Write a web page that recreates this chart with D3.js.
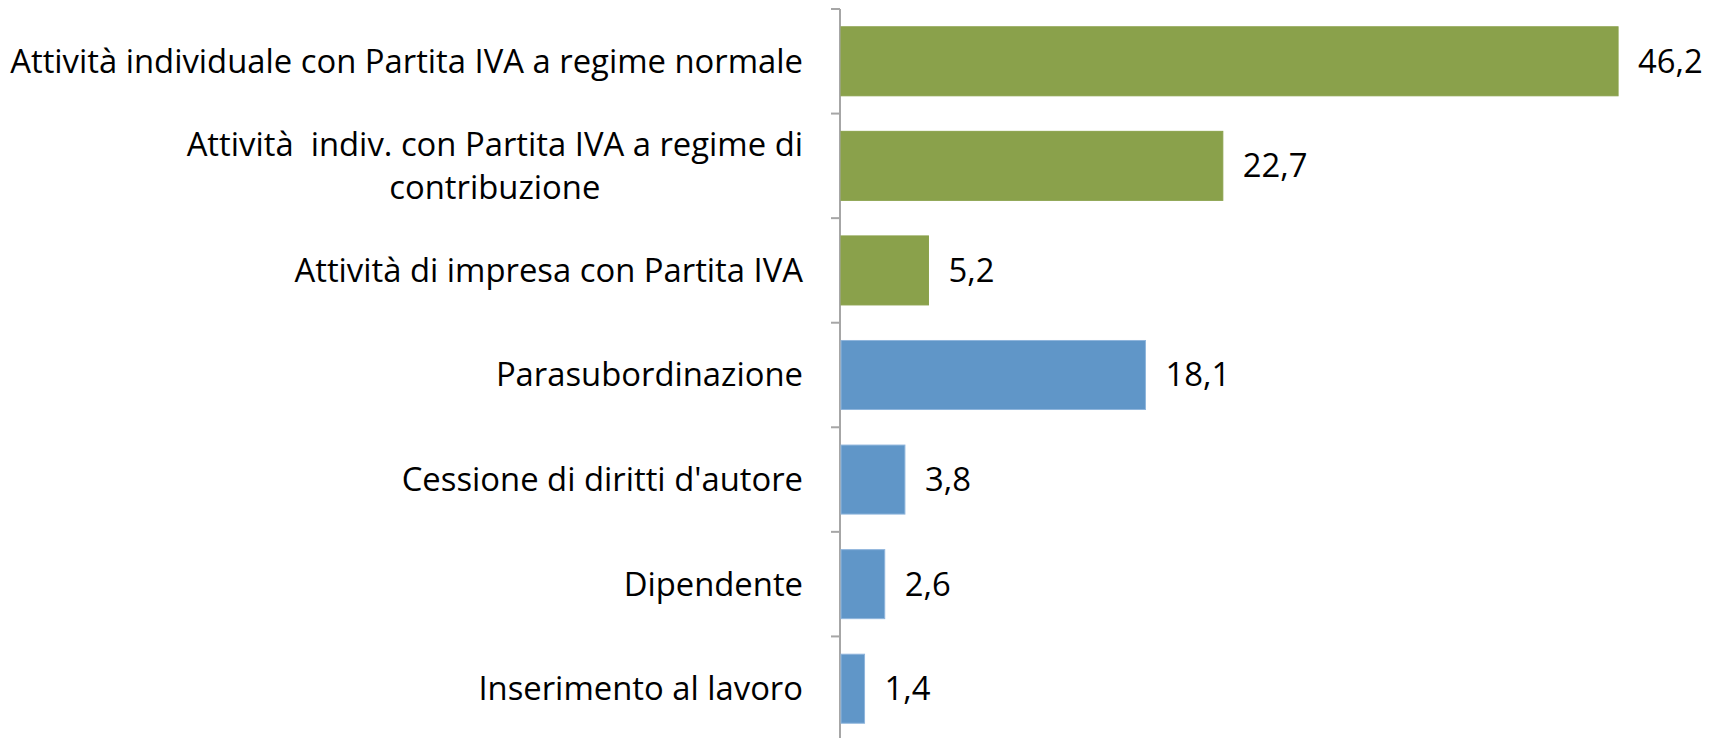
<!DOCTYPE html>
<html>
<head>
<meta charset="utf-8">
<script src="https://cdn.jsdelivr.net/npm/d3@7"></script>
<style>
  body { margin: 0; background: #fff; }
  text { font-family: "Open Sans", Lato, sans-serif; white-space: pre; }
</style>
</head>
<body>
<div id="chart"></div>
<script>
const categories = [
  "Attività individuale con Partita IVA a regime normale",
  "Attività  indiv. con Partita IVA a regime di contribuzione",
  "Attività di impresa con Partita IVA",
  "Parasubordinazione",
  "Cessione di diritti d'autore",
  "Dipendente",
  "Inserimento al lavoro"
];
const values = [46.2, 22.7, 5.2, 18.1, 3.8, 2.6, 1.4];
const groups = ["iva", "iva", "iva", "other", "other", "other", "other"];
// where the long label wraps
const labelLines = {
  "Attività  indiv. con Partita IVA a regime di contribuzione": ["Attività  indiv. con Partita IVA a regime di", "contribuzione"]
};

const W = 1721, H = 738;
const margin = { left: 840, right: 40, top: 9, bottom: -3 };
const width = W - margin.left - margin.right;
const height = H - margin.top - margin.bottom;
const fontSize = 32.8;

const color = d3.scaleOrdinal().domain(["iva", "other"]).range(["#8aa14b", "#6096c8"]);
const stroke = d3.scaleOrdinal().domain(["iva", "other"]).range(["#8aa14b", "#8fb5dc"]);

const svg = d3.select("#chart").append("svg")
  .attr("width", W)
  .attr("height", H);

const g = svg.append("g")
  .attr("transform", "translate(" + margin.left + "," + margin.top + ")");

const x = d3.scaleLinear().domain([0, 50]).range([0, width]);
const y = d3.scaleBand().domain(categories).range([0, height]).paddingInner(0.34).paddingOuter(0.17);

// axis line and ticks at the category boundaries
const axisColor = "#a6a6a6";
g.append("line")
  .attr("x1", 0).attr("x2", 0)
  .attr("y1", 0).attr("y2", height)
  .attr("stroke", axisColor).attr("stroke-width", 2);

const step = y.step();
g.selectAll(".tick")
  .data(d3.range(categories.length))
  .enter()
  .append("line")
  .attr("class", "tick")
  .attr("x1", -9).attr("x2", 0)
  .attr("y1", d => d * step)
  .attr("y2", d => d * step)
  .attr("stroke", axisColor).attr("stroke-width", 2);

g.selectAll(".bar")
  .data(categories)
  .enter()
  .append("rect")
  .attr("class", "bar")
  .attr("x", 1)
  .attr("y", d => y(d))
  .attr("width", (d, i) => x(values[i]))
  .attr("height", y.bandwidth())
  .attr("fill", (d, i) => color(groups[i]))
  .attr("stroke", (d, i) => stroke(groups[i]))
  .attr("stroke-width", 1);

g.selectAll(".val")
  .data(categories)
  .enter()
  .append("text")
  .attr("class", "val")
  .attr("x", (d, i) => x(values[i]) + 21)
  .attr("y", d => y(d) + y.bandwidth() / 2)
  .attr("dy", "0.35em")
  .attr("font-size", fontSize)
  .attr("fill", "#000")
  .text((d, i) => String(values[i]).replace(".", ","));

// category labels, right aligned block, wrapped lines centred
const lineH = 43;
const labels = g.selectAll(".lab")
  .data(categories)
  .enter()
  .append("text")
  .attr("class", "lab")
  .attr("font-size", fontSize)
  .attr("fill", "#000");

labels.each(function(d) {
  const lines = labelLines[d] || [d];
  const t = d3.select(this);
  const cy = y(d) + y.bandwidth() / 2;
  if (lines.length === 1) {
    t.attr("text-anchor", "end").attr("x", -37).attr("y", cy).attr("dy", "0.35em").text(d);
  } else {
    // measure widest line to centre the block
    t.attr("text-anchor", "middle");
    const spans = lines.map((l, k) => t.append("tspan").text(l)
      .attr("y", cy + (k - (lines.length - 1) / 2) * lineH).attr("dy", "0.35em"));
    const maxW = d3.max(spans, s => s.node().getComputedTextLength());
    spans.forEach(s => s.attr("x", -37 - maxW / 2));
  }
});
</script>
</body>
</html>
